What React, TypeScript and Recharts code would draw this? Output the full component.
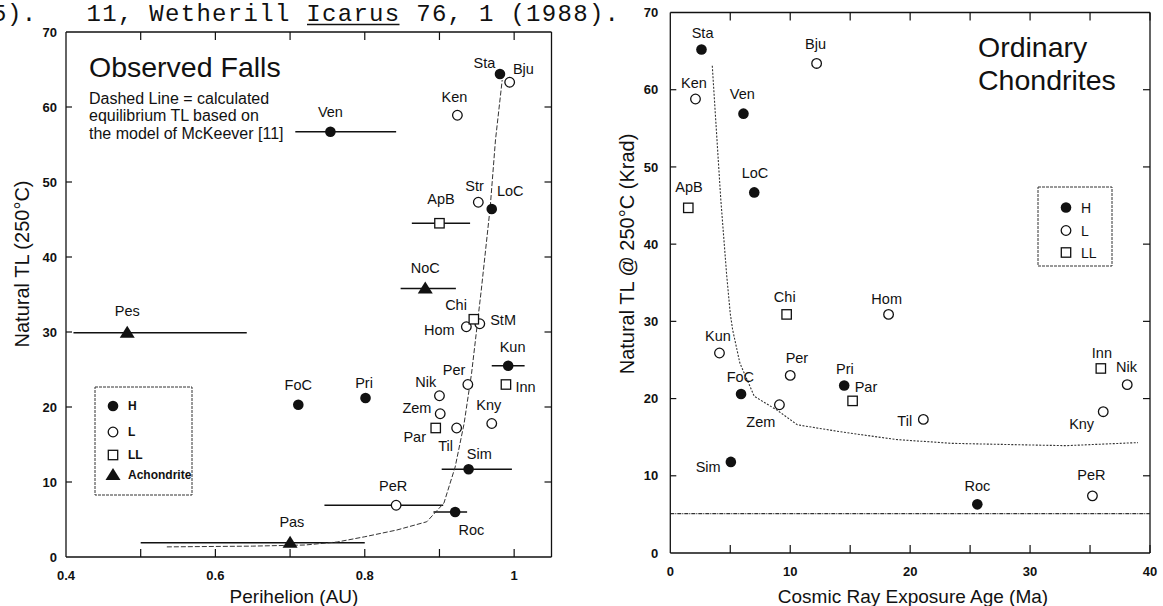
import React from "react";
import { ScatterChart, Scatter, XAxis, YAxis, ErrorBar, ReferenceLine } from "recharts";

const INK = "#111";
const FONT = "'Liberation Sans', Arial, Helvetica, sans-serif";
const MONO = "'Liberation Mono', 'Courier New', monospace";

// --- left panel: observed falls, natural TL vs perihelion (AU)
// qMin / qMax = range of the perihelion bar
const fallsH = [
  { name: "Sta", q: 0.981, tl: 64.4 },
  { name: "Ven", q: 0.754, tl: 56.7, qMin: 0.707, qMax: 0.842 },
  { name: "LoC", q: 0.97, tl: 46.4 },
  { name: "Kun", q: 0.992, tl: 25.5, qMin: 0.97, qMax: 1.014 },
  { name: "FoC", q: 0.711, tl: 20.3 },
  { name: "Pri", q: 0.801, tl: 21.2 },
  { name: "Sim", q: 0.939, tl: 11.7, qMin: 0.903, qMax: 0.997 },
  { name: "Roc", q: 0.921, tl: 6.0, qMin: 0.892, qMax: 0.937 },
];
const fallsL = [
  { name: "Bju", q: 0.994, tl: 63.3 },
  { name: "Ken", q: 0.924, tl: 58.9 },
  { name: "Str", q: 0.952, tl: 47.3 },
  { name: "Hom", q: 0.936, tl: 30.7 },
  { name: "StM", q: 0.954, tl: 31.1 },
  { name: "Per", q: 0.938, tl: 23.0 },
  { name: "Nik", q: 0.9, tl: 21.5 },
  { name: "Zem", q: 0.901, tl: 19.1 },
  { name: "Til", q: 0.923, tl: 17.2 },
  { name: "Kny", q: 0.97, tl: 17.8 },
  { name: "PeR", q: 0.842, tl: 6.9, qMin: 0.746, qMax: 0.905 },
];
const fallsLL = [
  { name: "ApB", q: 0.9, tl: 44.5, qMin: 0.863, qMax: 0.941 },
  { name: "Chi", q: 0.946, tl: 31.7 },
  { name: "Inn", q: 0.989, tl: 23.0 },
  { name: "Par", q: 0.895, tl: 17.2 },
];
const fallsAchondrite = [
  { name: "NoC", q: 0.881, tl: 35.8, qMin: 0.848, qMax: 0.922 },
  { name: "Pes", q: 0.482, tl: 29.9, qMin: 0.41, qMax: 0.642 },
  { name: "Pas", q: 0.7, tl: 1.9, qMin: 0.5, qMax: 0.8 },
];
// McKeever equilibrium TL (dashed)
const fallsModel = [
  { q: 0.535, tl: 1.35 }, { q: 0.65, tl: 1.45 }, { q: 0.72, tl: 1.6 },
  { q: 0.763, tl: 2.0 }, { q: 0.8, tl: 2.7 }, { q: 0.843, tl: 3.6 },
  { q: 0.883, tl: 4.7 }, { q: 0.906, tl: 7.2 }, { q: 0.921, tl: 12.0 },
  { q: 0.933, tl: 17.8 }, { q: 0.943, tl: 24.5 }, { q: 0.956, tl: 35.6 },
  { q: 0.968, tl: 46.7 }, { q: 0.975, tl: 55.6 }, { q: 0.984, tl: 63.6 },
];
const perihelionTicks = [0.4, 0.5, 0.6, 0.7, 0.8, 0.9, 1.0];
const perihelionLabels = ["0.4", "", "0.6", "", "0.8", "", "1"];
const tlTicks = [0, 10, 20, 30, 40, 50, 60, 70];

// --- right panel: natural TL vs cosmic ray exposure age (Ma)
const exposureH = [
  { name: "Sta", age: 2.6, tl: 65.2 },
  { name: "Ven", age: 6.1, tl: 56.9 },
  { name: "LoC", age: 7.0, tl: 46.7 },
  { name: "Pri", age: 14.5, tl: 21.7 },
  { name: "FoC", age: 5.9, tl: 20.6 },
  { name: "Sim", age: 5.05, tl: 11.8 },
  { name: "Roc", age: 25.6, tl: 6.3 },
];
const exposureL = [
  { name: "Bju", age: 12.2, tl: 63.4 },
  { name: "Ken", age: 2.1, tl: 58.8 },
  { name: "Hom", age: 18.2, tl: 30.9 },
  { name: "Kun", age: 4.1, tl: 25.9 },
  { name: "Per", age: 10.0, tl: 23.0 },
  { name: "Zem", age: 9.1, tl: 19.2 },
  { name: "Til", age: 21.1, tl: 17.3 },
  { name: "Nik", age: 38.1, tl: 21.8 },
  { name: "Kny", age: 36.1, tl: 18.3 },
  { name: "PeR", age: 35.2, tl: 7.4 },
];
const exposureLL = [
  { name: "ApB", age: 1.5, tl: 44.7 },
  { name: "Chi", age: 9.7, tl: 30.9 },
  { name: "Par", age: 15.2, tl: 19.7 },
  { name: "Inn", age: 35.9, tl: 23.9 },
];
const exposureModel = [
  { age: 3.5, tl: 63.1 }, { age: 4.2, tl: 46 }, { age: 4.7, tl: 36 },
  { age: 5.0, tl: 31 }, { age: 5.2, tl: 28.9 }, { age: 5.8, tl: 24.6 },
  { age: 7.0, tl: 20.3 }, { age: 8.9, tl: 18.5 }, { age: 10.6, tl: 16.6 },
  { age: 14.2, tl: 15.7 }, { age: 18.8, tl: 14.7 }, { age: 23.5, tl: 14.2 },
  { age: 29.7, tl: 14.0 }, { age: 33, tl: 13.9 }, { age: 39.0, tl: 14.3 },
];
const exposureFloor = 5.1;
const ageTicks = [0, 5, 10, 15, 20, 25, 30, 35, 40];
const ageLabels = ["0", "", "10", "", "20", "", "30", "", "40"];

// page header text above the figure (reference list, cut at the left)
const citationHead = "5).";
const citationTail = "11, Wetherill Icarus 76, 1 (1988).";

// label placement (label centre relative to the symbol), px
const LEFT_LABELS: Record<string, [number, number]> = {
  Sta: [-15.5, -11.3], Bju: [13.7, -13.7], Ken: [-3, -18.7], Ven: [0, -20],
  Str: [-3.7, -16.3], LoC: [18.5, -18.7], ApB: [1.5, -24], NoC: [0, -20.7],
  Chi: [-17.8, -14], Hom: [-27, 3.3], StM: [23.3, -3.7], Pes: [0, -22],
  Kun: [4.4, -18.7], Inn: [19.6, 2.3], Per: [-13.7, -14.7], Nik: [-13.7, -14],
  FoC: [0, -19.7], Pri: [-1.5, -15.3], Zem: [-23.3, -5.7], Par: [-21, 9],
  Til: [-11, 17.3], Kny: [-3, -18.7], Sim: [10.7, -15], PeR: [-3, -19.3],
  Roc: [16.3, 17.3], Pas: [1.8, -20.7],
};
const RIGHT_LABELS: Record<string, [number, number]> = {
  Sta: [1.1, -16.7], Bju: [-1.1, -20], Ken: [-1.5, -16.7], Ven: [-1.1, -19.7],
  LoC: [0.7, -19.3], ApB: [0.7, -21], Chi: [-1.9, -17.3], Hom: [-1.9, -16],
  Kun: [-1.5, -17], Per: [6.7, -17.7], Pri: [0.7, -17], Par: [13.4, -14.3],
  FoC: [-0.7, -17.3], Zem: [-18.6, 17], Til: [-18.6, 1.3], Inn: [1.1, -16],
  Nik: [-0.7, -17.7], Kny: [-21.6, 11.7], Sim: [-22.7, 5.3], Roc: [0, -19],
  PeR: [-1.1, -20.7],
};

const withErr = (rows: any[]) =>
  rows.map((r) => ({ ...r, err: r.qMin != null ? [r.q - r.qMin, r.qMax - r.q] : undefined }));

function symbol(kind: string, cx: number, cy: number) {
  switch (kind) {
    case "H":
      return <circle cx={cx} cy={cy} r={5.3} fill={INK} />;
    case "L":
      return <circle cx={cx} cy={cy} r={4.8} fill="#fff" stroke={INK} strokeWidth={1.3} />;
    case "LL":
      return <rect x={cx - 4.7} y={cy - 4.7} width={9.4} height={9.4} fill="#fff" stroke={INK} strokeWidth={1.3} />;
    default:
      return <polygon points={`${cx},${cy - 7} ${cx + 7.5},${cy + 5} ${cx - 7.5},${cy + 5}`} fill={INK} />;
  }
}

const marker = (kind: string, labels: Record<string, [number, number]>, fs: number) => (p: any) => {
  const { cx, cy, payload } = p;
  if (cx == null || cy == null) return <g />;
  const off = labels[payload.name] || [0, -18];
  return (
    <g>
      {symbol(kind, cx, cy)}
      <text x={cx + off[0]} y={cy + off[1] + fs * 0.36} textAnchor="middle" fontSize={fs}
        fontFamily={FONT} fill={INK}>{payload.name}</text>
    </g>
  );
};

const noShape = () => <g />;

// inward tick marks on both sides, labels outside
const xTick = (ticks: number[], labels: string[], plotH: number, yOff: number) => (p: any) => {
  const { x, y, payload, index } = p;
  const i = ticks.indexOf(payload.value);
  return (
    <g>
      {i !== 0 && <line x1={x} y1={y} x2={x} y2={y - 8} stroke={INK} strokeWidth={1.2} />}
      {i !== 0 && <line x1={x} y1={y - plotH} x2={x} y2={y - plotH + 8} stroke={INK} strokeWidth={1.2} />}
      <text x={x} y={y + yOff} textAnchor="middle" fontSize={13} fontWeight="bold" fontFamily={FONT} fill={INK}>
        {labels[i >= 0 ? i : index]}
      </text>
    </g>
  );
};

const yTick = (plotW: number, gap: number, last: number) => (p: any) => {
  const { x, y, payload } = p;
  const v = payload.value;
  return (
    <g>
      {v !== 0 && v !== last && <line x1={x} y1={y} x2={x + 6} y2={y} stroke={INK} strokeWidth={1.2} />}
      {v !== 0 && v !== last && <line x1={x + plotW} y1={y} x2={x + plotW - 7} y2={y} stroke={INK} strokeWidth={1.2} />}
      <text x={x - gap} y={y + 4.6} textAnchor="end" fontSize={13} fontWeight="bold" fontFamily={FONT} fill={INK}>
        {v}
      </text>
    </g>
  );
};

const axisStroke = { stroke: INK, strokeWidth: 1.3 };

function FallsChart() {
  const plotW = 551.5 - 66;
  const plotH = 557 - 32;
  const errBar = <ErrorBar dataKey="err" direction="x" width={0} stroke={INK} strokeWidth={1.4} />;
  return (
    <ScatterChart width={560} height={606} margin={{ top: 32, right: 8.5, bottom: 19, left: 0 }}>
      <XAxis type="number" dataKey="q" domain={[0.4, 1.05]} ticks={perihelionTicks} allowDataOverflow
        height={30} tickSize={0} tickMargin={0} axisLine={axisStroke} tickLine={false}
        tick={xTick(perihelionTicks, perihelionLabels, plotH, 23)} interval={0} />
      <YAxis type="number" dataKey="tl" domain={[0, 70]} ticks={tlTicks} allowDataOverflow
        width={66} tickSize={0} tickMargin={0} axisLine={axisStroke} tickLine={false}
        tick={yTick(plotW, 9, 70)} interval={0} />
      <ReferenceLine y={70} stroke={INK} strokeWidth={1.3} />
      <ReferenceLine x={1.05} stroke={INK} strokeWidth={1.3} />
      <Scatter data={fallsModel} shape={noShape} isAnimationActive={false}
        line={{ stroke: "#333", strokeWidth: 1, strokeDasharray: "5 2" }} />
      <Scatter data={withErr(fallsH)} shape={marker("H", LEFT_LABELS, 14.5)} isAnimationActive={false}>
        {errBar}
      </Scatter>
      <Scatter data={withErr(fallsL)} shape={marker("L", LEFT_LABELS, 14.5)} isAnimationActive={false}>
        {errBar}
      </Scatter>
      <Scatter data={withErr(fallsLL)} shape={marker("LL", LEFT_LABELS, 14.5)} isAnimationActive={false}>
        {errBar}
      </Scatter>
      <Scatter data={withErr(fallsAchondrite)} shape={marker("A", LEFT_LABELS, 14.5)} isAnimationActive={false}>
        {errBar}
      </Scatter>
    </ScatterChart>
  );
}

function ExposureChart() {
  const plotW = 1150 - 670.3;
  const plotH = 553 - 12.5;
  return (
    <ScatterChart width={583} height={606} margin={{ top: 12.5, right: 13, bottom: 23, left: 0 }}>
      <XAxis type="number" dataKey="age" domain={[0, 40]} ticks={ageTicks} allowDataOverflow
        height={30} tickSize={0} tickMargin={0} axisLine={axisStroke} tickLine={false}
        tick={xTick(ageTicks, ageLabels, plotH, 23)} interval={0} />
      <YAxis type="number" dataKey="tl" domain={[0, 70]} ticks={tlTicks} allowDataOverflow
        width={90.3} tickSize={0} tickMargin={0} axisLine={axisStroke} tickLine={false}
        tick={yTick(plotW, 12, 70)} interval={0} />
      <ReferenceLine y={70} stroke={INK} strokeWidth={1.3} />
      <ReferenceLine x={40} stroke={INK} strokeWidth={1.3} />
      <ReferenceLine y={exposureFloor} stroke="#333" strokeWidth={1.1} strokeDasharray="4 1 1 1" />
      <Scatter data={exposureModel} shape={noShape} isAnimationActive={false}
        line={{ stroke: "#333", strokeWidth: 1.1, strokeDasharray: "2 1.5" }} />
      <Scatter data={exposureH} shape={marker("H", RIGHT_LABELS, 14.5)} isAnimationActive={false} />
      <Scatter data={exposureL} shape={marker("L", RIGHT_LABELS, 14.5)} isAnimationActive={false} />
      <Scatter data={exposureLL} shape={marker("LL", RIGHT_LABELS, 14.5)} isAnimationActive={false} />
    </ScatterChart>
  );
}

function Decorations() {
  const t = { fontFamily: FONT, fill: INK } as const;
  const leftLegend = [
    { kind: "H", text: "H", y: 406 },
    { kind: "L", text: "L", y: 432 },
    { kind: "LL", text: "LL", y: 455 },
    { kind: "A", text: "Achondrite", y: 475 },
  ];
  const rightLegend = [
    { kind: "H", text: "H", y: 207.5 },
    { kind: "L", text: "L", y: 230.5 },
    { kind: "LL", text: "LL", y: 252.5 },
  ];
  const pitch = 15.75;
  return (
    <svg width={1163} height={606} style={{ position: "absolute", left: 0, top: 0, pointerEvents: "none" }}>
      {/* running reference line at the top of the page */}
      <g fontFamily={MONO} fontSize={24} fill={INK}>
        <text x={-8} y={21} textLength={3 * pitch - 3} lengthAdjust="spacing">{citationHead}</text>
        <text x={-8 + 6 * pitch} y={21} xmlSpace="preserve" style={{ whiteSpace: "pre" }}
          textLength={citationTail.length * pitch - 3} lengthAdjust="spacing">
          {citationTail}
        </text>
      </g>
      <line x1={-8 + 20 * pitch} y1={24.5} x2={-8 + 26 * pitch - 2} y2={24.5} stroke={INK} strokeWidth={1.5} />

      <text x={89} y={77} fontSize={28.5} {...t}>Observed Falls</text>
      <text x={89} y={104} fontSize={16} {...t}>Dashed Line = calculated</text>
      <text x={89} y={121} fontSize={16} {...t}>equilibrium TL based on</text>
      <text x={89} y={139} fontSize={16} {...t}>the model of McKeever [11]</text>

      <text x={978} y={57} fontSize={28.5} {...t}>Ordinary</text>
      <text x={978} y={89.5} fontSize={28.5} {...t}>Chondrites</text>

      <text transform="translate(29,264) rotate(-90)" textAnchor="middle" fontSize={20} {...t}>
        Natural TL (250°C)
      </text>
      <text transform="translate(634,254) rotate(-90)" textAnchor="middle" fontSize={20} {...t}>
        Natural TL @ 250°C (Krad)
      </text>
      <text x={294} y={603} textAnchor="middle" fontSize={19} {...t}>Perihelion (AU)</text>
      <text x={913} y={603} textAnchor="middle" fontSize={19} {...t}>Cosmic Ray Exposure Age (Ma)</text>

      <rect x={95} y={387} width={97} height={108} fill="#fff" stroke="#333" strokeWidth={1} strokeDasharray="3 1" />
      {leftLegend.map((e) => (
        <g key={e.text}>
          {symbol(e.kind, 113, e.y)}
          <text x={128} y={e.y + 4.3} fontSize={12} fontWeight="bold" {...t}>{e.text}</text>
        </g>
      ))}
      <rect x={1038} y={187} width={74} height={79} fill="#fff" stroke="#333" strokeWidth={1} strokeDasharray="3 1" />
      {rightLegend.map((e) => (
        <g key={e.text}>
          {symbol(e.kind, 1066, e.y)}
          <text x={1081} y={e.y + 5} fontSize={14} {...t}>{e.text}</text>
        </g>
      ))}
    </svg>
  );
}

export default function App() {
  return (
    <div style={{ position: "absolute", left: 0, top: 0, width: 1163, height: 606, background: "#fff" }}>
      <div style={{ position: "absolute", left: 0, top: 0 }}>
        <FallsChart />
      </div>
      <div style={{ position: "absolute", left: 580, top: 0 }}>
        <ExposureChart />
      </div>
      <Decorations />
    </div>
  );
}
